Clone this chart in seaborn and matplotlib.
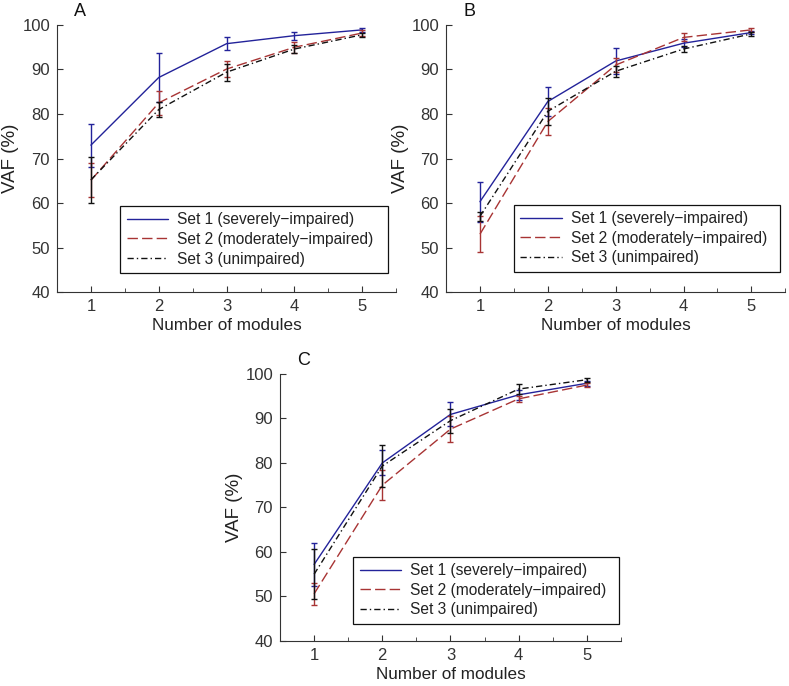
import matplotlib
matplotlib.use("Agg")
import matplotlib.pyplot as plt
import seaborn as sns
import pandas as pd
from matplotlib.ticker import MultipleLocator

sns.set_style("ticks")
plt.rcParams['font.family'] = ['Liberation Sans', 'DejaVu Sans']

# x values and series labels
modules = [1, 2, 3, 4, 5]
set_labels = ["Set 1 (severely\u2212impaired)",
              "Set 2 (moderately\u2212impaired)",
              "Set 3 (unimpaired)"]

# Panel A
a_set1 = [73.0, 88.2, 95.8, 97.6, 98.9]
a_set1_err = [4.8, 5.4, 1.5, 0.9, 0.5]
a_set2 = [65.1, 82.5, 90.1, 95.0, 98.2]
a_set2_err = [3.8, 2.7, 1.9, 1.2, 0.7]
a_set3 = [65.2, 81.0, 89.4, 94.6, 97.8]
a_set3_err = [5.1, 1.6, 1.9, 1.0, 0.5]

# Panel B
b_set1 = [60.3, 82.8, 91.9, 95.9, 98.3]
b_set1_err = [4.5, 3.3, 2.9, 0.9, 0.4]
b_set2 = [53.0, 78.3, 91.0, 97.2, 98.9]
b_set2_err = [4.1, 3.0, 1.5, 0.9, 0.5]
b_set3 = [57.0, 80.6, 89.6, 94.6, 98.0]
b_set3_err = [1.0, 3.0, 1.2, 0.6, 0.4]

# Panel C
c_set1 = [57.2, 80.0, 90.9, 95.3, 97.9]
c_set1_err = [4.8, 2.8, 2.7, 1.2, 0.5]
c_set2 = [50.6, 75.0, 87.6, 94.4, 97.5]
c_set2_err = [2.4, 3.4, 3.0, 0.6, 0.5]
c_set3 = [55.0, 79.3, 89.5, 96.6, 98.7]
c_set3_err = [5.6, 4.8, 2.7, 1.2, 0.4]

colors = ['#23239a', '#a83434', '#111111']
styles = ['-', (0, (7.5, 3)), (0, (4.5, 2.2, 1, 2.2))]
ax_color = '#333333'


def draw_panel(ax, series, errs, letter, leg_anchor):
    for lab, vals, err, c, ls in zip(set_labels, series, errs, colors, styles):
        df = pd.DataFrame({'modules': modules, 'vaf': vals})
        sns.lineplot(data=df, x='modules', y='vaf', color=c, linestyle=ls,
                     linewidth=1.0, label=lab, ax=ax)
        ax.errorbar(modules, vals, yerr=err, fmt='none', ecolor=c,
                    elinewidth=1.0, capsize=2.5, capthick=1.0)
    ax.set_xlim(0.5, 5.5)
    ax.set_ylim(40, 100)
    ax.xaxis.set_major_locator(MultipleLocator(1))
    ax.xaxis.set_minor_locator(MultipleLocator(0.5))
    ax.yaxis.set_major_locator(MultipleLocator(10))
    ax.tick_params(axis='both', which='both', direction='in', colors=ax_color,
                   labelsize=12, pad=5)
    ax.tick_params(which='major', length=4)
    ax.tick_params(which='minor', length=3)
    for sp in ['top', 'right']:
        ax.spines[sp].set_visible(False)
    for sp in ['left', 'bottom']:
        ax.spines[sp].set_color(ax_color)
        ax.spines[sp].set_linewidth(0.8)
    ax.set_xlabel('Number of modules', fontsize=12.3, color='#222222', labelpad=3)
    ax.set_ylabel('VAF (%)', fontsize=13.5, color='#222222', labelpad=2)
    leg = ax.legend(loc='lower left', bbox_to_anchor=leg_anchor, mode='expand',
                    borderaxespad=0, fontsize=11.2, handlelength=2.65,
                    labelspacing=0.3, fancybox=False, framealpha=1,
                    edgecolor='#111111', borderpad=0.42, handletextpad=0.6)
    leg.get_frame().set_linewidth(0.9)
    for t in leg.get_texts():
        t.set_color('#222222')
    ax.text(0.068, 1.05, letter, transform=ax.transAxes, fontsize=13,
            color='#111111', ha='center', va='center')


fig = plt.figure(figsize=(7.89, 6.86), dpi=100)
ax_a = fig.add_axes([0.0722, 0.5743, 0.430, 0.3893])
ax_b = fig.add_axes([0.5653, 0.5743, 0.430, 0.3893])
ax_c = fig.add_axes([0.3549, 0.0656, 0.432, 0.3893])

draw_panel(ax_a, [a_set1, a_set2, a_set3], [a_set1_err, a_set2_err, a_set3_err],
           'A', (0.186, 0.071, 0.79, 0.25))
draw_panel(ax_b, [b_set1, b_set2, b_set3], [b_set1_err, b_set2_err, b_set3_err],
           'B', (0.200, 0.075, 0.785, 0.25))
draw_panel(ax_c, [c_set1, c_set2, c_set3], [c_set1_err, c_set2_err, c_set3_err],
           'C', (0.215, 0.064, 0.78, 0.25))

fig.savefig('out.png', dpi=100)
